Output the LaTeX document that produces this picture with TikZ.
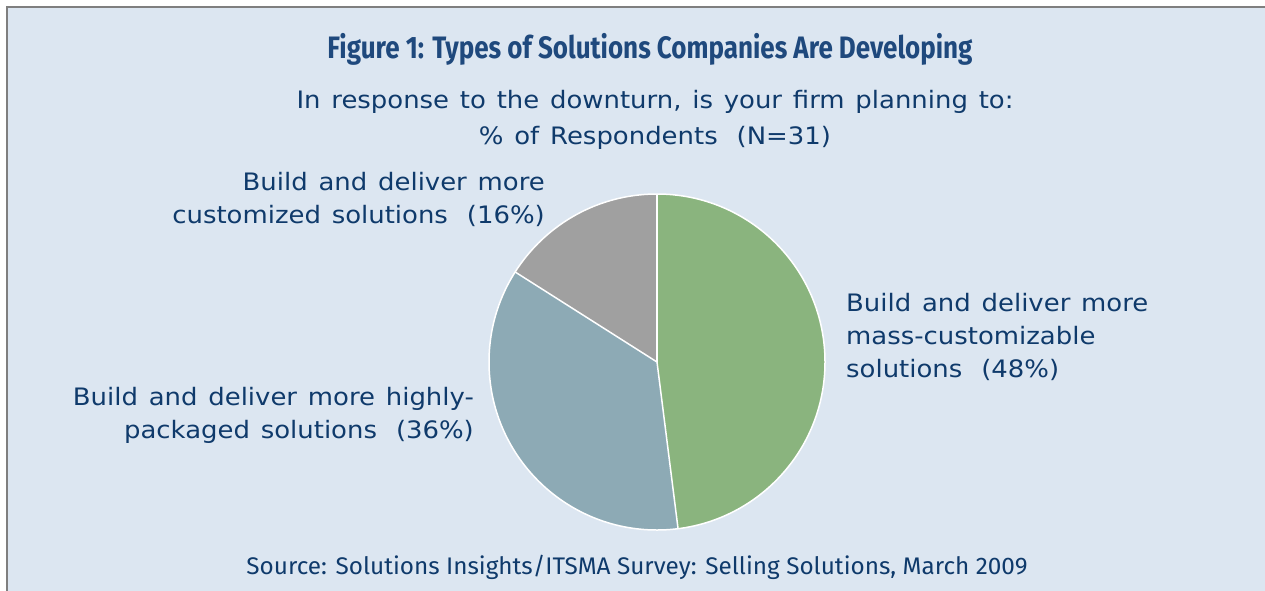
\documentclass[tikz,border=0pt]{standalone}
\usepackage{fontspec}
\setmainfont{DejaVu Sans}[FakeStretch=1.08]
\newfontfamily\headfont{Fira Sans}
\usetikzlibrary{positioning}
\definecolor{panelblue}{HTML}{DCE6F1}
\definecolor{framegray}{HTML}{7F7F7F}
\definecolor{inkblue}{HTML}{0F3A6B}
\definecolor{titleblue}{HTML}{1F497D}
\definecolor{piegreen}{HTML}{8AB47E}
\definecolor{pieblue}{HTML}{8DAAB5}
\definecolor{piegray}{HTML}{A0A0A0}
\newcommand\pgap{\hskip 19pt\relax}
\newcommand\bodyfont{\fontsize{24}{33}\selectfont\spaceskip 10.8pt\relax}
\newcommand\capfont{\headfont\spaceskip 0pt\relax}
\begin{document}
\begin{tikzpicture}[x=1pt,y=-1pt]
    \tikzstyle{every node}=[inner sep=0pt, text=inkblue, font=\bodyfont]
    \tikzstyle{lefttext}=[align=left]
    \useasboundingbox (0,0) rectangle (1265,590);
    \fill[white] (0,0) rectangle (1265,590);
    \filldraw[fill=panelblue, draw=framegray, line width=2pt] (7,7) rectangle (1275,600);

    \node (title) at (650,49) {\resizebox{645pt}{\height}{\capfont\bfseries\fontsize{31}{31}\selectfont\color{titleblue}Figure 1: Types of Solutions Companies Are Developing}};
    \node (q) at (655,102) {In response to the downturn, is your firm planning to:};
    \node (n) [below=12pt of q] {\% of Respondents\pgap(N=31)};

    % pie
    \coordinate (c) at (657,362);
    \fill[piegreen] (c) -- ++(90:168pt) arc[start angle=90, end angle=-82.8, radius=168pt] -- cycle;
    \fill[pieblue] (c) -- ++(-82.8:168pt) arc[start angle=-82.8, end angle=-212.4, radius=168pt] -- cycle;
    \fill[piegray] (c) -- ++(147.6:168pt) arc[start angle=147.6, end angle=90, radius=168pt] -- cycle;
    \draw[white, line width=1.5pt] (c) circle[radius=168pt];
    \draw[white, line width=1.5pt] (c) -- ++(90:168pt);
    \draw[white, line width=1.5pt] (c) -- ++(-82.8:168pt);
    \draw[white, line width=1.5pt] (c) -- ++(147.6:168pt);

    \node (custom) [anchor=east, align=right] at (545,199) {Build and deliver more\\customized solutions\pgap(16\%)};
    \node (packaged) [anchor=east, align=right] at (474,415) {Build and deliver more highly-\\packaged solutions\pgap(36\%)};
    \node (mass) [anchor=west, lefttext] at (846,337) {Build and deliver more\\mass-customizable\\solutions\pgap(48\%)};

    \node (source) at (637,567) {\resizebox{781pt}{\height}{\capfont\fontsize{24}{24}\selectfont\color{inkblue}Source: Solutions Insights/ITSMA Survey: Selling Solutions, March 2009}};
\end{tikzpicture}
\end{document}
